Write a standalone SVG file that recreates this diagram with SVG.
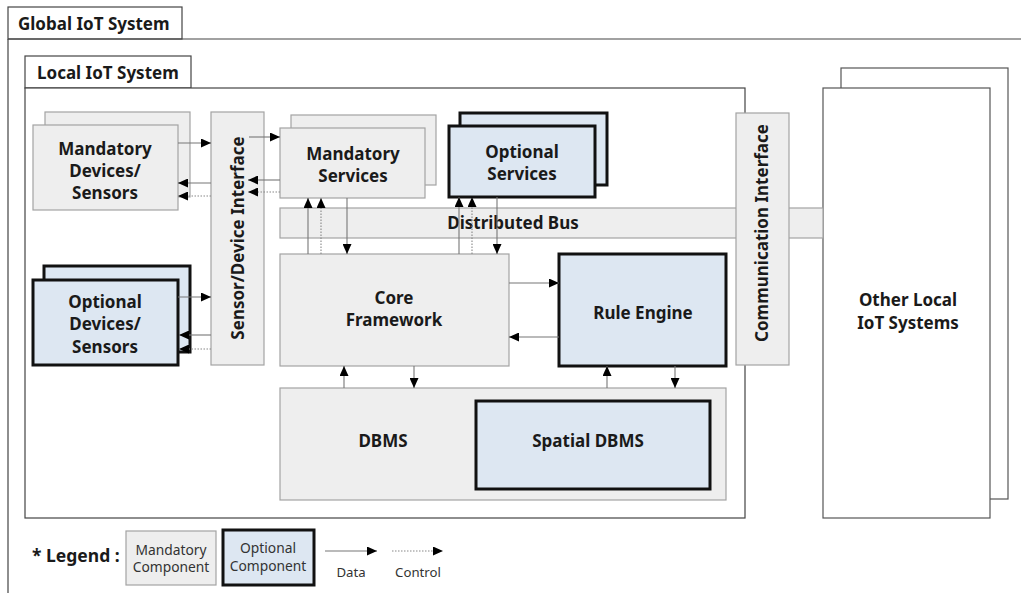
<svg xmlns="http://www.w3.org/2000/svg" width="1021" height="593" viewBox="0 0 1021 593">
<style>
.frame{fill:#fff;stroke:#444;stroke-width:1.2}
.mand{fill:#eeeeee;stroke:#a3a3a3;stroke-width:1.2}
.opt{fill:#dde7f2;stroke:#111;stroke-width:3}
.plain{fill:#fff;stroke:#555;stroke-width:1.2}
.t{font-family:"Noto Sans","Open Sans","Liberation Sans",sans-serif;font-weight:bold;fill:#1a1a1a;text-anchor:middle;font-size:17px}
.tl{font-family:"Noto Sans","Open Sans","Liberation Sans",sans-serif;font-weight:bold;fill:#1a1a1a}
.n{font-family:"Noto Sans","Open Sans","Liberation Sans",sans-serif;fill:#333;text-anchor:middle}
.d{fill:none;stroke:#777;stroke-width:1.1;marker-end:url(#ah)}
.c{fill:none;stroke:#888;stroke-width:1.1;stroke-dasharray:1.5 1.5;marker-end:url(#ah)}
</style>
<defs>
<marker id="ah" markerUnits="userSpaceOnUse" markerWidth="10" markerHeight="9" refX="10" refY="4.5" orient="auto">
<path d="M0,0 L10,4.5 L0,9 Z" fill="#000"/>
</marker>
</defs>
<rect width="1021" height="593" fill="#fff"/>

<g id="global">
<rect class="frame" x="8" y="7" width="174" height="32"/>
<path d="M8,39 H1021 M8,39 V593" fill="none" stroke="#444" stroke-width="1.2"/>
<text class="tl" x="18" y="30" font-size="17">Global IoT System</text>
</g>

<g id="local">
<rect class="frame" x="25" y="56" width="166" height="32"/>
<rect class="frame" x="25" y="88" width="720" height="430"/>
<text class="tl" x="37" y="79" font-size="17">Local IoT System</text>
</g>

<g id="other-local">
<rect class="plain" x="841" y="68" width="167" height="431"/>
<rect class="plain" x="823" y="88" width="167" height="430"/>
<text class="t" x="908" y="306">Other Local</text>
<text class="t" x="908" y="329">IoT Systems</text>
</g>

<g id="distributed-bus">
<rect class="mand" x="280" y="208" width="543" height="30"/>
<text class="t" x="513" y="229">Distributed Bus</text>
</g>

<g id="communication-interface">
<rect class="mand" x="736" y="113" width="53" height="252"/>
<text class="t" x="0" y="0" transform="translate(768,233) rotate(-90)">Communication Interface</text>
</g>

<g id="sensor-device-interface">
<rect class="mand" x="211" y="112" width="53" height="253"/>
<text class="t" x="0" y="0" transform="translate(244,238) rotate(-90)">Sensor/Device Interface</text>
</g>

<g id="mandatory-devices">
<rect class="mand" x="45" y="112" width="145" height="85"/>
<rect class="mand" x="33" y="125" width="145" height="85"/>
<text class="t" x="105" y="155">Mandatory</text>
<text class="t" x="105" y="177">Devices/</text>
<text class="t" x="105" y="199">Sensors</text>
</g>

<g id="optional-devices">
<rect class="opt" x="44" y="266" width="146" height="86"/>
<rect class="opt" x="33" y="280" width="145" height="85"/>
<text class="t" x="105" y="308">Optional</text>
<text class="t" x="105" y="330">Devices/</text>
<text class="t" x="105" y="353">Sensors</text>
</g>

<g id="mandatory-services">
<rect class="mand" x="291" y="115" width="145" height="70"/>
<rect class="mand" x="280" y="128" width="145" height="70"/>
<text class="t" x="353" y="160">Mandatory</text>
<text class="t" x="353" y="182">Services</text>
</g>

<g id="optional-services">
<rect class="opt" x="460" y="113" width="147" height="72"/>
<rect class="opt" x="449" y="126" width="146" height="71"/>
<text class="t" x="522" y="158">Optional</text>
<text class="t" x="522" y="180">Services</text>
</g>

<g id="core-framework">
<rect class="mand" x="280" y="254" width="229" height="112"/>
<text class="t" x="394" y="304">Core</text>
<text class="t" x="394" y="326">Framework</text>
</g>

<g id="rule-engine">
<rect class="opt" x="559" y="254" width="167" height="112"/>
<text class="t" x="643" y="319">Rule Engine</text>
</g>

<g id="dbms">
<rect class="mand" x="280" y="388" width="446" height="112"/>
<text class="t" x="383" y="447">DBMS</text>
</g>

<g id="spatial-dbms">
<rect class="opt" x="476" y="401" width="234" height="88"/>
<text class="t" x="588" y="447">Spatial DBMS</text>
</g>

<g id="connectors">
<path class="d" d="M178,143 H211"/>
<path class="d" d="M211,183 H178"/>
<path class="c" d="M211,196 H178"/>
<path class="d" d="M249,137 H280"/>
<path class="d" d="M280,180 H248"/>
<path class="c" d="M280,192 H248"/>
<path class="d" d="M308,254 V198"/>
<path class="c" d="M321,254 V198"/>
<path class="d" d="M347,198 V254"/>
<path class="d" d="M178,297 H211"/>
<path class="d" d="M211,335 H179"/>
<path class="c" d="M211,349 H179"/>
<path class="d" d="M459,254 V197"/>
<path class="c" d="M472,254 V197"/>
<path class="d" d="M497,197 V254"/>
<path class="d" d="M509,283 H559"/>
<path class="d" d="M559,337 H509"/>
<path class="d" d="M344,388 V366"/>
<path class="d" d="M414,366 V388"/>
<path class="d" d="M607,388 V366"/>
<path class="d" d="M675,366 V388"/>
</g>

<g id="legend">
<text class="tl" x="32" y="562" font-size="17.5">* Legend :</text>
<rect class="mand" x="126" y="531" width="90" height="54"/>
<text class="n" x="171" y="555" font-size="13.8">Mandatory</text>
<text class="n" x="171" y="572" font-size="13.8">Component</text>
<rect class="opt" x="223" y="530" width="91" height="55"/>
<text class="n" x="268" y="553" font-size="13.8">Optional</text>
<text class="n" x="268" y="571" font-size="13.8">Component</text>
<path class="d" d="M325,551 H377"/>
<path class="c" d="M392,551 H443"/>
<text class="n" x="351" y="577" font-size="13.2">Data</text>
<text class="n" x="418" y="577" font-size="13.2">Control</text>
</g>
</svg>
